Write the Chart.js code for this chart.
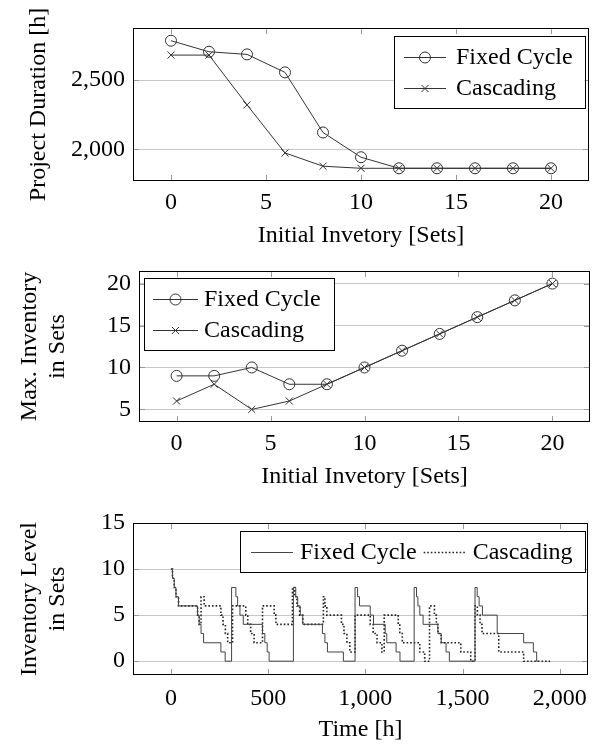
<!DOCTYPE html>
<html>
<head>
<meta charset="utf-8">
<script src="https://cdn.jsdelivr.net/npm/chart.js@4.4.1/dist/chart.umd.min.js"></script>
<style>
  html, body { margin: 0; padding: 0; background: #fff; }
  canvas { position: absolute; left: 0; }
</style>
</head>
<body>
<canvas id="durChart" width="600" height="250" style="top:0px"></canvas>
<canvas id="maxChart" width="600" height="250" style="top:250px"></canvas>
<canvas id="levelChart" width="600" height="244" style="top:500px"></canvas>
<script>
// dati
const initialInventory = [0, 2, 4, 6, 8, 10, 12, 14, 16, 18, 20];
const durationFixed = [2785, 2705, 2686, 2556, 2121, 1942, 1862, 1862, 1862, 1862, 1862];
const durationCascading = [2681, 2681, 2321, 1973, 1877, 1862, 1862, 1862, 1862, 1862, 1862];

const maxInvFixed = [9, 9, 10, 8, 8, 10, 12, 14, 16, 18, 20];
const maxInvCascading = [6, 8, 5, 6, 8, 10, 12, 14, 16, 18, 20];

// livello di magazzino nel tempo (istanti di cambio e nuovo livello)
const fixedTime = [0, 8, 17, 26, 39, 137, 145, 155, 168, 257, 279, 312, 334, 343, 355, 372, 471, 483, 495, 505,
  630, 642, 652, 665, 678, 779, 792, 805, 887, 947, 960, 970, 1025, 1042, 1102, 1110, 1158, 1178,
  1251, 1263, 1270, 1280, 1297, 1373, 1390, 1415, 1432, 1564, 1575, 1585, 1602, 1678, 1814, 1864, 1881, 1890];
const fixedLevel = [10, 9, 8, 7, 6, 5, 4, 3, 2, 1, 0, 8, 7, 6, 5, 4, 3, 2, 1, 0,
  8, 7, 6, 5, 4, 3, 2, 1, 0, 8, 7, 6, 5, 4, 3, 2, 1, 0,
  8, 7, 6, 5, 4, 3, 2, 1, 0, 8, 7, 6, 5, 3, 2, 1, 0, 0];
const cascTime = [0, 8, 17, 26, 39, 137, 145, 155, 171, 257, 268, 280, 292, 317, 385, 395, 410, 428, 471, 531, 540,
  625, 637, 648, 662, 678, 784, 792, 802, 877, 890, 905, 920, 947, 1025, 1040, 1060, 1085, 1097, 1169, 1177, 1190,
  1280, 1305, 1330, 1355, 1365, 1373, 1390, 1491, 1542, 1564, 1576, 1590, 1600, 1686, 1814, 1950];
const cascLevel = [10, 9, 8, 7, 6, 5, 4, 7, 6, 5, 4, 3, 2, 6, 5, 4, 3, 2, 6, 5, 4,
  8, 7, 6, 5, 4, 7, 6, 5, 4, 3, 2, 1, 5, 4, 3, 2, 1, 5, 4, 3, 2,
  1, 0, 6, 5, 4, 3, 2, 1, 0, 6, 5, 4, 3, 1, 0, 0];

// etichette degli assi
const setsTicks = [0, 5, 10, 15, 20];
const durationTicks = [2000, 2500];
const maxInvTicks = [5, 10, 15, 20];
const timeTicks = [0, 500, 1000, 1500, 2000];
const levelTicks = [0, 5, 10, 15];

Chart.defaults.font.family = '"Liberation Serif", "Times New Roman", serif';
Chart.defaults.font.size = 24;
Chart.defaults.color = '#000';

const LINE = '#333';

// cornice nera e piccole tacche sugli assi
const frame = {
  id: 'frame',
  afterDatasetsDraw(chart) {
    const { ctx, chartArea: a, scales: { x, y } } = chart;
    ctx.save();
    ctx.strokeStyle = '#999';
    ctx.lineWidth = 1;
    ctx.beginPath();
    x.ticks.forEach(t => {
      const px = Math.round(x.getPixelForValue(t.value)) + 0.5;
      ctx.moveTo(px, a.top); ctx.lineTo(px, a.top + 6);
      ctx.moveTo(px, a.bottom); ctx.lineTo(px, a.bottom - 6);
    });
    y.ticks.forEach(t => {
      const py = Math.round(y.getPixelForValue(t.value)) + 0.5;
      ctx.moveTo(a.left, py); ctx.lineTo(a.left + 6, py);
      ctx.moveTo(a.right, py); ctx.lineTo(a.right - 6, py);
    });
    ctx.stroke();
    ctx.strokeStyle = '#000';
    ctx.strokeRect(a.left + 0.5, a.top + 0.5, a.right - a.left - 1, a.bottom - a.top - 1);
    ctx.restore();
  }
};

// legenda dentro l'area del grafico, con riquadro
const boxLegend = {
  id: 'boxLegend',
  afterDraw(chart, args, o) {
    const { ctx, chartArea: a } = chart;
    const sets = chart.data.datasets;
    ctx.save();
    ctx.font = '24px "Liberation Serif"';
    const tw = sets.map(d => ctx.measureText(d.label).width);
    let w, h;
    if (o.horizontal) {
      w = o.padL + o.padR + tw.reduce((s, t) => s + o.sample + o.gap + t, 0) + o.itemGap * (sets.length - 1);
      h = o.rowH + 2 * o.padY;
    } else {
      w = o.padL + o.sample + o.gap + Math.max(...tw) + o.padR;
      h = o.rowH * sets.length + 2 * o.padY;
    }
    const left = Math.round(o.corner === 'nw' ? a.left + o.offX : a.right - o.offX - w);
    const top = Math.round(a.top + o.offY);
    ctx.fillStyle = '#fff';
    ctx.fillRect(left, top, w, h);
    ctx.strokeStyle = '#000';
    ctx.lineWidth = 1;
    ctx.strokeRect(left + 0.5, top + 0.5, Math.round(w), Math.round(h));

    let cx = left + o.padL;
    sets.forEach((d, i) => {
      const cy = o.horizontal ? top + h / 2 : top + o.padY + o.rowH * (i + 0.5);
      if (!o.horizontal) cx = left + o.padL;
      ctx.strokeStyle = d.borderColor;
      ctx.lineWidth = d.borderWidth;
      ctx.setLineDash(d.borderDash || []);
      ctx.beginPath();
      ctx.moveTo(cx, Math.round(cy) + 0.5);
      ctx.lineTo(cx + o.sample, Math.round(cy) + 0.5);
      ctx.stroke();
      ctx.setLineDash([]);
      if (d.pointRadius > 0) {
        ctx.fillStyle = 'rgba(0,0,0,0)';
        ctx.strokeStyle = d.borderColor;
        ctx.lineWidth = 1;
        Chart.helpers.drawPoint(ctx, { pointStyle: d.pointStyle, radius: d.pointRadius, borderWidth: 1, rotation: 0 },
          cx + o.sample / 2, Math.round(cy) + 0.5);
      }
      ctx.fillStyle = '#000';
      ctx.textBaseline = 'middle';
      ctx.fillText(d.label, cx + o.sample + o.gap, cy + 1);
      cx += o.sample + o.gap + tw[i] + o.itemGap;
    });
    ctx.restore();
  }
};

function fixedTicks(list) {
  return s => { s.ticks = list.map(v => ({ value: v })); };
}

function makeChart(id, datasets, p) {
  return new Chart(document.getElementById(id), {
    type: 'line',
    data: { datasets: datasets },
    plugins: [frame, boxLegend],
    options: {
      responsive: false,
      animation: false,
      devicePixelRatio: 1,
      parsing: false,
      layout: { padding: { left: 0, right: p.padRight, top: p.padTop, bottom: 0 } },
      plugins: {
        legend: { display: false },
        tooltip: { enabled: false },
        boxLegend: p.legend
      },
      scales: {
        x: {
          type: 'linear',
          min: p.xMin, max: p.xMax,
          afterBuildTicks: fixedTicks(p.xTicks),
          afterFit: s => { s.height = p.xHeight; s.paddingLeft = 0; s.paddingRight = 0; },
          grid: { display: false, drawTicks: false },
          border: { display: false },
          ticks: { padding: p.xTickPad, maxRotation: 0, autoSkip: false, callback: v => v.toLocaleString('en-US') },
          title: { display: true, text: p.xTitle, padding: { top: 0, bottom: p.xTitlePad } }
        },
        y: {
          min: p.yMin, max: p.yMax,
          afterBuildTicks: fixedTicks(p.yTicks),
          afterFit: s => { s.width = p.yWidth; s.paddingTop = 0; s.paddingBottom = 0; },
          grid: { color: '#c8c8c8', drawTicks: false },
          border: { display: false },
          ticks: { padding: 8, autoSkip: false, callback: v => v.toLocaleString('en-US') },
          title: { display: true, text: p.yTitle, padding: { top: p.yTitlePad, bottom: 0 } }
        }
      }
    }
  });
}

function pts(xs, ys) {
  return xs.map((x, i) => ({ x: x, y: ys[i] }));
}

const markerSet = (label, xs, ys, style, r) => ({
  label: label,
  data: pts(xs, ys),
  borderColor: LINE,
  borderWidth: 1,
  pointStyle: style,
  pointRadius: r,
  pointBorderWidth: 1,
  pointBorderColor: LINE,
  pointBackgroundColor: 'rgba(0,0,0,0)',
  tension: 0
});

makeChart('durChart', [
  markerSet('Fixed Cycle', initialInventory, durationFixed, 'circle', 5.5),
  markerSet('Cascading', initialInventory, durationCascading, 'crossRot', 5)
], {
  padRight: 11, padTop: 28, xHeight: 69, yWidth: 133,
  xMin: -2, xMax: 22, yMin: 1770, yMax: 2877,
  xTicks: setsTicks, yTicks: durationTicks,
  xTickPad: 7, xTitlePad: 0, yTitlePad: 24,
  xTitle: 'Initial Invetory [Sets]', yTitle: 'Project Duration [h]',
  legend: { corner: 'ne', offX: 4, offY: 8, padL: 10, padR: 12, padY: 5, rowH: 31, sample: 42, gap: 10, itemGap: 0 }
});

makeChart('maxChart', [
  markerSet('Fixed Cycle', initialInventory, maxInvFixed, 'circle', 5.5),
  markerSet('Cascading', initialInventory, maxInvCascading, 'crossRot', 5)
], {
  padRight: 10, padTop: 21, xHeight: 78, yWidth: 139,
  xMin: -2, xMax: 22, yMin: 3.5, yMax: 21.5,
  xTicks: setsTicks, yTicks: maxInvTicks,
  xTickPad: 7, xTitlePad: 9, yTitlePad: 15,
  xTitle: 'Initial Invetory [Sets]', yTitle: ['Max. Inventory', 'in Sets'],
  legend: { corner: 'nw', offX: 5, offY: 7, padL: 9, padR: 13, padY: 5, rowH: 31, sample: 45, gap: 6, itemGap: 0 }
});

makeChart('levelChart', [
  { label: 'Fixed Cycle', data: pts(fixedTime, fixedLevel), borderColor: '#444', borderWidth: 1,
    pointRadius: 0, stepped: true },
  { label: 'Cascading', data: pts(cascTime, cascLevel), borderColor: '#222', borderWidth: 1.6,
    borderDash: [1.6, 2], pointRadius: 0, stepped: true }
], {
  padRight: 12, padTop: 23, xHeight: 69, yWidth: 133,
  xMin: -195, xMax: 2145, yMin: -1.5, yMax: 15,
  xTicks: timeTicks, yTicks: levelTicks,
  xTickPad: 9, xTitlePad: 0, yTitlePad: 15,
  xTitle: 'Time [h]', yTitle: ['Inventory Level', 'in Sets'],
  legend: { corner: 'ne', offX: 3, offY: 8, horizontal: true, padL: 11, padR: 12, padY: 5, rowH: 31, sample: 42, gap: 7, itemGap: 7 }
});
</script>
</body>
</html>
